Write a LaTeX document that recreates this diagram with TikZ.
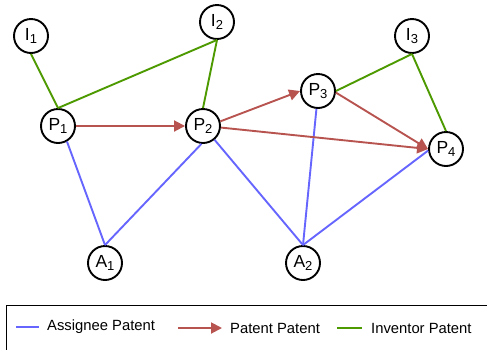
\documentclass[tikz,border=0pt]{standalone}
\usepackage{fontspec}
\setmainfont{Liberation Sans}
\usetikzlibrary{arrows.meta}
\definecolor{ablue}{HTML}{6666FF}
\definecolor{pred}{HTML}{B85450}
\definecolor{igreen}{HTML}{4D9900}
\newcommand{\vlab}[2]{#1\raisebox{-0.3ex}{\fontsize{13}{13}\selectfont #2}}
\tikzset{
  vert/.style={circle,draw=black,line width=1.9pt,fill=white,minimum size=34pt,inner sep=0pt,font=\fontsize{17.5}{17.5}\selectfont},
  aedge/.style={draw=ablue,line width=1.9pt},
  pedge/.style={draw=pred,line width=1.9pt,-{Triangle[length=11pt,width=11pt]}},
  iedge/.style={draw=igreen,line width=1.9pt},
  legtext/.style={anchor=west,font=\fontsize{14.8}{14.8}\selectfont,inner sep=0pt}
}
\begin{document}
\begin{tikzpicture}[x=1pt,y=-1pt]
\useasboundingbox (0,0) rectangle (487,349);
\begin{scope}
\clip (0,0) rectangle (487,349);
\draw[line width=1pt] (6,305) rectangle (500,360);
\end{scope}
\node[vert] (I1) at (31,36) {\vlab{I}{1}};
\node[vert] (I2) at (217,22) {\vlab{I}{2}};
\node[vert] (I3) at (412,36) {\vlab{I}{3}};
\node[vert] (P1) at (58,126) {\vlab{P}{1}};
\node[vert] (P2) at (203,126) {\vlab{P}{2}};
\node[vert] (P3) at (318,91) {\vlab{P}{3}};
\node[vert] (P4) at (446,149) {\vlab{P}{4}};
\node[vert] (A1) at (105,263) {\vlab{A}{1}};
\node[vert] (A2) at (303,263) {\vlab{A}{2}};
% inventor edges
\draw[iedge] (I1.south) -- (P1.north);
\draw[iedge] (I2.south) -- (P1.north);
\draw[iedge] (I2.south) -- (P2.north);
\draw[iedge] (P3.east) -- (I3.south);
\draw[iedge] (I3.south) -- (P4.north);
% assignee edges
\draw[aedge] (P1.-60) -- (A1.north);
\draw[aedge] (P2.-95) -- (A1.north);
\draw[aedge] (P2.-50) -- (A2.north);
\draw[aedge] (P3.-95) -- (A2.north);
\draw[aedge] (P4.-175) -- (A2.north);
% patent edges
\draw[pedge] (P1.east) -- (P2.west);
\draw[pedge] (P2.15) -- (P3.west);
\draw[pedge] (P2.-5) -- (P4.west);
\draw[pedge] (P3.-5) -- (P4.west);
% legend
\coordinate (b1) at (16,327);
\coordinate (b2) at (39,327);
\draw[aedge] (b1) -- (b2);
\node[legtext] (lb) at (47,327) {Assignee Patent};
\coordinate (r1) at (178,328);
\coordinate (r2) at (222,328);
\draw[pedge] (r1) -- (r2);
\node[legtext] (lr) at (230,328) {Patent Patent};
\coordinate (g1) at (337,328);
\coordinate (g2) at (362,328);
\draw[iedge] (g1) -- (g2);
\node[legtext] (lg) at (371,328) {Inventor Patent};
\end{tikzpicture}
\end{document}
